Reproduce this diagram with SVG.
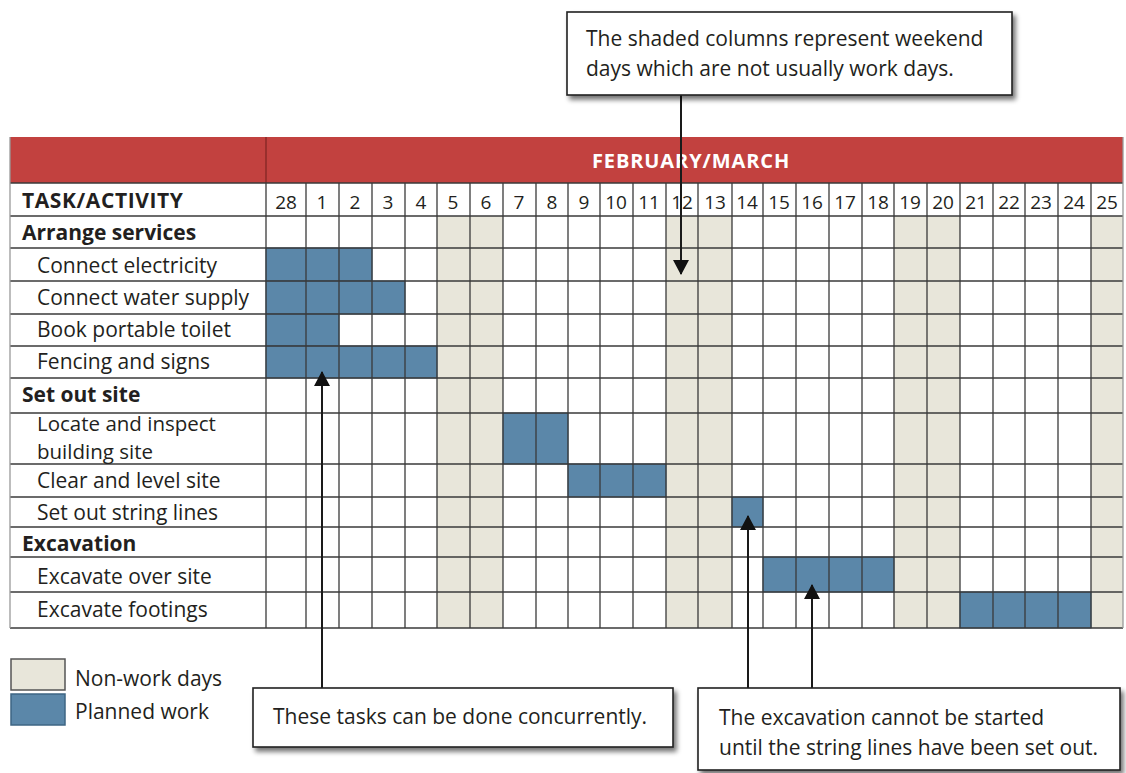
<svg xmlns="http://www.w3.org/2000/svg" width="1126" height="773" viewBox="0 0 1126 773">
<defs>
<style>
.t{font-family:"Open Sans","Liberation Sans",Arial,sans-serif;font-size:21px;fill:#231f20}
.b{font-weight:bold;font-size:21px}
.d{text-anchor:middle;font-size:19px}
.g{stroke:#3a3a3a;stroke-width:1.3}
.sh{fill:#e8e6da}
.bar{fill:#5b87a9;stroke:#3e6684;stroke-width:1}
.box{fill:#fff;stroke:#222;stroke-width:1.6}
.cn{stroke:#1a1a1a;stroke-width:2;fill:none}
</style>
<filter id="ds" x="-10%" y="-20%" width="125%" height="150%">
<feGaussianBlur in="SourceAlpha" stdDeviation="2.5"/>
<feOffset dx="3" dy="4"/>
<feComponentTransfer><feFuncA type="linear" slope="0.55"/></feComponentTransfer>
<feMerge><feMergeNode/><feMergeNode in="SourceGraphic"/></feMerge>
</filter>
<marker id="ah" markerWidth="16" markerHeight="16" refX="14" refY="8" orient="auto" markerUnits="userSpaceOnUse">
<path d="M0,0 L15,8 L0,16 Z" fill="#111"/>
</marker>
</defs>
<rect width="1126" height="773" fill="#fff"/>

<g id="table">
<rect x="10" y="137" width="1113" height="46" fill="#c2413f"/>
<line x1="266" y1="137" x2="266" y2="183" stroke="#8a2a28" stroke-width="1.5"/>
<text x="691" y="168" class="t b" style="fill:#fff;font-size:20px;letter-spacing:0.9px;text-anchor:middle">FEBRUARY/MARCH</text>
<rect class="sh" x="437" y="216" width="66" height="412"/>
<rect class="sh" x="666" y="216" width="66" height="412"/>
<rect class="sh" x="894" y="216" width="66" height="412"/>
<rect class="sh" x="1091" y="216" width="32" height="412"/>
<rect class="bar" x="266" y="248" width="106" height="33"/>
<rect class="bar" x="266" y="281" width="139" height="33"/>
<rect class="bar" x="266" y="314" width="73" height="32"/>
<rect class="bar" x="266" y="346" width="171" height="32"/>
<rect class="bar" x="503" y="413" width="65" height="51"/>
<rect class="bar" x="568" y="464" width="98" height="33"/>
<rect class="bar" x="732" y="497" width="31" height="30"/>
<rect class="bar" x="763" y="557" width="131" height="35"/>
<rect class="bar" x="960" y="592" width="131" height="36"/>
<g class="g">
<line x1="10" y1="183" x2="1123" y2="183"/>
<line x1="10" y1="216" x2="1123" y2="216"/>
<line x1="10" y1="248" x2="1123" y2="248"/>
<line x1="10" y1="281" x2="1123" y2="281"/>
<line x1="10" y1="314" x2="1123" y2="314"/>
<line x1="10" y1="346" x2="1123" y2="346"/>
<line x1="10" y1="378" x2="1123" y2="378"/>
<line x1="10" y1="413" x2="1123" y2="413"/>
<line x1="10" y1="464" x2="1123" y2="464"/>
<line x1="10" y1="497" x2="1123" y2="497"/>
<line x1="10" y1="527" x2="1123" y2="527"/>
<line x1="10" y1="557" x2="1123" y2="557"/>
<line x1="10" y1="592" x2="1123" y2="592"/>
<line x1="10" y1="628" x2="1123" y2="628"/>
<line x1="266" y1="183" x2="266" y2="628"/>
<line x1="306" y1="183" x2="306" y2="628"/>
<line x1="339" y1="183" x2="339" y2="628"/>
<line x1="372" y1="183" x2="372" y2="628"/>
<line x1="405" y1="183" x2="405" y2="628"/>
<line x1="437" y1="183" x2="437" y2="628"/>
<line x1="470" y1="183" x2="470" y2="628"/>
<line x1="503" y1="183" x2="503" y2="628"/>
<line x1="536" y1="183" x2="536" y2="628"/>
<line x1="568" y1="183" x2="568" y2="628"/>
<line x1="600" y1="183" x2="600" y2="628"/>
<line x1="633" y1="183" x2="633" y2="628"/>
<line x1="666" y1="183" x2="666" y2="628"/>
<line x1="698" y1="183" x2="698" y2="628"/>
<line x1="732" y1="183" x2="732" y2="628"/>
<line x1="763" y1="183" x2="763" y2="628"/>
<line x1="796" y1="183" x2="796" y2="628"/>
<line x1="829" y1="183" x2="829" y2="628"/>
<line x1="862" y1="183" x2="862" y2="628"/>
<line x1="894" y1="183" x2="894" y2="628"/>
<line x1="927" y1="183" x2="927" y2="628"/>
<line x1="960" y1="183" x2="960" y2="628"/>
<line x1="993" y1="183" x2="993" y2="628"/>
<line x1="1025" y1="183" x2="1025" y2="628"/>
<line x1="1058" y1="183" x2="1058" y2="628"/>
<line x1="1091" y1="183" x2="1091" y2="628"/>
<line x1="1123" y1="137" x2="1123" y2="628" stroke="#999"/>
<line x1="10" y1="137" x2="10" y2="628" stroke="#999"/>
</g>
<text x="22" y="208" class="t b" style="letter-spacing:0.6px">TASK/ACTIVITY</text>
<g class="t d">
<text x="286" y="209">28</text>
<text x="322" y="209">1</text>
<text x="355" y="209">2</text>
<text x="388" y="209">3</text>
<text x="421" y="209">4</text>
<text x="453" y="209">5</text>
<text x="486" y="209">6</text>
<text x="519" y="209">7</text>
<text x="552" y="209">8</text>
<text x="584" y="209">9</text>
<text x="616" y="209">10</text>
<text x="649" y="209">11</text>
<text x="682" y="209">12</text>
<text x="715" y="209">13</text>
<text x="747" y="209">14</text>
<text x="779" y="209">15</text>
<text x="812" y="209">16</text>
<text x="845" y="209">17</text>
<text x="878" y="209">18</text>
<text x="910" y="209">19</text>
<text x="943" y="209">20</text>
<text x="976" y="209">21</text>
<text x="1009" y="209">22</text>
<text x="1041" y="209">23</text>
<text x="1074" y="209">24</text>
<text x="1107" y="209">25</text>
</g>
<text x="22" y="240" class="t b">Arrange services</text>
<text x="37" y="273" class="t">Connect electricity</text>
<text x="37" y="305" class="t">Connect water supply</text>
<text x="37" y="337" class="t">Book portable toilet</text>
<text x="37" y="369" class="t">Fencing and signs</text>
<text x="22" y="402" class="t b">Set out site</text>
<text class="t" style="font-size:20.5px"><tspan x="37" y="431">Locate and inspect</tspan><tspan x="37" y="459">building site</tspan></text>
<text x="37" y="488" class="t">Clear and level site</text>
<text x="37" y="520" class="t">Set out string lines</text>
<text x="22" y="551" class="t b">Excavation</text>
<text x="37" y="584" class="t">Excavate over site</text>
<text x="37" y="617" class="t">Excavate footings</text>
</g>

<g id="legend">
<rect x="11" y="659" width="54" height="31" fill="#e8e6da" stroke="#555" stroke-width="1.5"/>
<text x="75" y="686" class="t">Non-work days</text>
<rect x="11" y="694" width="54" height="31" fill="#5b87a9" stroke="#3e6684" stroke-width="1.5"/>
<text x="75" y="719" class="t">Planned work</text>
</g>

<g id="connectors">
<line class="cn" x1="681" y1="95" x2="681" y2="274" marker-end="url(#ah)"/>
<line class="cn" x1="322" y1="688" x2="322" y2="372" marker-end="url(#ah)"/>
<line class="cn" x1="748" y1="688" x2="748" y2="516" marker-end="url(#ah)"/>
<line class="cn" x1="812" y1="688" x2="812" y2="585" marker-end="url(#ah)"/>
</g>

<g id="note-weekend">
<rect class="box" x="567" y="12" width="445" height="83" filter="url(#ds)"/>
<text x="586" y="46" class="t">The shaded columns represent weekend</text>
<text x="586" y="76" class="t">days which are not usually work days.</text>
</g>
<g id="note-concurrent">
<rect class="box" x="253" y="688" width="420" height="59" filter="url(#ds)"/>
<text x="273" y="724" class="t">These tasks can be done concurrently.</text>
</g>
<g id="note-excavation">
<rect class="box" x="698" y="688" width="422" height="82" filter="url(#ds)"/>
<text x="719" y="725" class="t">The excavation cannot be started</text>
<text x="719" y="755" class="t">until the string lines have been set out.</text>
</g>
</svg>
